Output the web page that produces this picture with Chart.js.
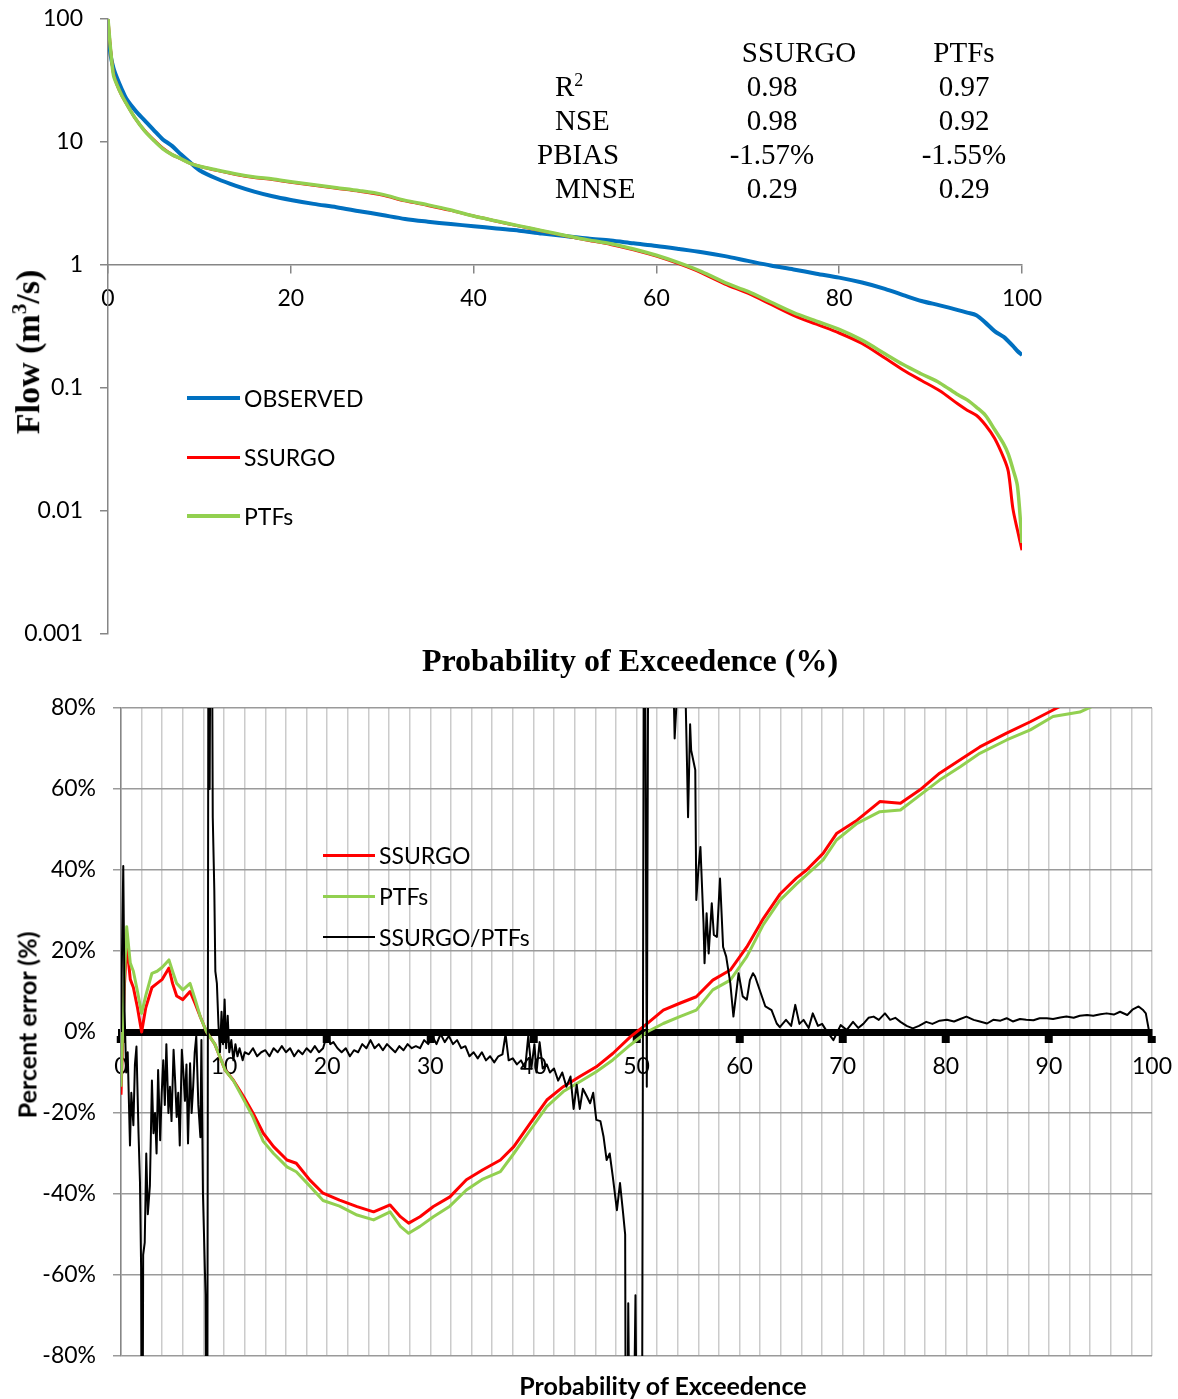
<!DOCTYPE html>
<html>
<head>
<meta charset="utf-8">
<script src="https://cdn.jsdelivr.net/npm/chart.js@4.4.1/dist/chart.umd.min.js"></script>
<style>
  body { margin: 0; background: #fff; }
  #page { position: relative; width: 1178px; height: 1399px; overflow: hidden; background: #fff; }
  .txt { position: absolute; white-space: nowrap; line-height: 1; color: #000; }
  .serif { font-family: "Liberation Serif", "Times New Roman", serif; }
  .sans { font-family: Lato, "Open Sans", sans-serif; }
  .mark { position: absolute; }
</style>
</head>
<body>
<div id="page">
  <canvas id="flowChart" width="1178" height="690" style="position:absolute;left:0;top:0"></canvas>
  <canvas id="errorChart" width="1178" height="709" style="position:absolute;left:0;top:690px"></canvas>
</div>
<script>
// ---- top chart: flow duration curves ----
const topPct = [0, 0.3, 0.6, 1, 1.5, 2, 3, 4, 5, 6, 7, 8, 9, 10, 12, 14, 16, 18, 20, 22.5, 25, 27.5,
  30, 32.5, 35, 37.5, 40, 42.5, 45, 47.5, 50, 52.5, 55, 57.5, 60, 62.5, 65, 67.5, 70, 72.5, 75, 77.5,
  80, 82.5, 85, 87, 89, 91, 93, 94, 95, 96, 97, 98, 98.5, 99, 99.5, 100];
const observedFlow = [78, 50, 40, 33, 27, 22.5, 18, 15, 12.5, 10.5, 9.3, 7.9, 6.8, 5.9, 5.0, 4.4, 3.95, 3.62, 3.38, 3.14, 2.95, 2.74,
  2.55, 2.37, 2.25, 2.15, 2.07, 1.98, 1.9, 1.8, 1.72, 1.64, 1.58, 1.5, 1.43, 1.35, 1.27, 1.18, 1.08, 0.99, 0.92, 0.85,
  0.79, 0.72, 0.64, 0.57, 0.51, 0.47, 0.43, 0.41, 0.39, 0.34, 0.29, 0.26, 0.24, 0.22, 0.2, 0.185];
const ssurgoFlow = [100, 55, 36, 29, 24, 20.6, 15.5, 12.4, 10.4, 8.9, 7.9, 7.3, 6.7, 6.35, 5.85, 5.45, 5.15, 4.95, 4.7, 4.45, 4.2, 3.97,
  3.7, 3.32, 3.05, 2.78, 2.5, 2.27, 2.07, 1.89, 1.73, 1.59, 1.47, 1.33, 1.18, 1.02, 0.86, 0.7, 0.59, 0.48, 0.39, 0.33,
  0.28, 0.23, 0.175, 0.14, 0.115, 0.095, 0.074, 0.066, 0.06, 0.05, 0.039, 0.027, 0.021, 0.0105, 0.007, 0.0048];
const ptfsFlow = [100, 55, 35, 29, 24, 20.6, 15.5, 12.3, 10.3, 8.8, 7.9, 7.3, 6.7, 6.35, 5.9, 5.5, 5.2, 5.0, 4.75, 4.5, 4.25, 4.02,
  3.75, 3.35, 3.08, 2.8, 2.5, 2.28, 2.08, 1.9, 1.74, 1.6, 1.49, 1.35, 1.2, 1.04, 0.88, 0.72, 0.61, 0.5, 0.41, 0.35,
  0.3, 0.245, 0.19, 0.155, 0.13, 0.11, 0.088, 0.08, 0.07, 0.06, 0.046, 0.035, 0.029, 0.022, 0.016, 0.0055];
const flowTicks = [0.001, 0.01, 0.1, 1, 10, 100];
const pctTicks = [0, 20, 40, 60, 80, 100];

const statRows = ["R<sup style='font-size:0.62em;vertical-align:0.55em'>2</sup>", "NSE", "PBIAS", "MNSE"];
const statSsurgo = ["0.98", "0.98", "-1.57%", "0.29"];
const statPtfs = ["0.97", "0.92", "-1.55%", "0.29"];

// ---- bottom chart: percent error ----
const errPct = [0, 0.3, 0.55, 0.9, 1.2, 1.6, 2.0, 2.4, 3.0, 3.5, 4.0, 4.65, 5.0, 5.4, 6.0, 6.7, 7.2, 7.7, 8.3, 9.1,
  10.1, 10.9, 11.9, 12.8, 13.8, 14.8, 16.1, 17.0, 18.3, 19.6, 21.2, 22.9, 24.5, 26.1, 27.1, 27.9, 29.0, 30.3,
  31.9, 33.5, 35.1, 36.8, 38.1, 39.7, 41.3, 42.9, 44.5, 46.1, 47.7, 49.4, 51.0, 52.6, 54.2, 55.8, 57.4, 59.1,
  60.7, 62.3, 63.9, 65.5, 66.5, 68.1, 69.4, 71.4, 73.6, 75.6, 77.5, 79.4, 81.4, 83.3, 85.9, 88.2, 90.4, 93, 96, 100];
const ssurgoErr = [-15.5, 10, 22, 13, 11, 6, 0, 6, 11, 12, 13, 15.8, 12, 8.9, 8, 10, 7, 3.7, 0, -3,
  -9.4, -11.9, -16, -20, -25, -28.3, -31.6, -32.4, -36.5, -39.8, -41.5, -43.1, -44.4, -42.7, -45.6, -47.2, -45.6, -43.1,
  -40.7, -36.5, -34, -31.6, -28.3, -22.5, -16.8, -13.5, -11, -8.6, -5.3, -1.2, 2, 5.4, 7.1, 8.7, 12.8, 15.3,
  21, 28, 34, 38, 40, 44.1, 49, 52.3, 56.9, 56.5, 59.8, 63.9, 67.2, 70.4, 73.8, 76.6, 79.5, 83, 87, 92];
const ptfsErr = [-13.5, 12, 26, 17, 15, 10, 4.6, 9, 14.5, 15, 16, 17.8, 15, 12, 10.4, 12, 8, 3.7, 0, -3,
  -9.4, -12, -16.7, -21, -27, -30, -33.3, -34.5, -38, -41.6, -43, -45.2, -46.4, -44.4, -48, -49.7, -48, -45.6,
  -43, -39, -36.3, -34.5, -30, -24.2, -18.4, -14.7, -12.3, -9.8, -6.9, -3.2, 0, 2.1, 3.8, 5.4, 10.4, 12.8,
  18.6, 26.5, 32.5, 36.5, 38.8, 42.5, 47.4, 51.5, 54.4, 54.8, 58.5, 62.2, 65.5, 68.8, 72.1, 74.6, 77.9, 79, 82.5, 86];
const ratioPct = [0, 0.1, 0.22, 0.35, 0.5, 0.65, 0.87, 1.0, 1.2, 1.35, 1.5, 1.7, 1.84, 1.95, 2.05, 2.15, 2.3, 2.45, 2.6, 2.8,
  3.0, 3.15, 3.3, 3.45, 3.6, 3.8, 3.95, 4.1, 4.25, 4.4, 4.6, 4.75, 4.9, 5.1, 5.25, 5.4, 5.55, 5.7, 5.9, 6.05,
  6.2, 6.35, 6.5, 6.7, 6.85, 7.0, 7.15, 7.3, 7.5, 7.7, 7.8, 7.95, 8.05, 8.2, 8.35, 8.5, 8.6, 8.75, 8.9, 9.05,
  9.15, 9.3, 9.45, 9.6, 9.75, 9.9, 10.05, 10.2, 10.35, 10.5, 10.7, 10.9, 11.1, 11.3, 11.5, 11.8, 12.0, 12.4, 12.8, 13.2,
  13.6, 14.0, 14.4, 14.8, 15.2, 15.6, 16.0, 16.4, 16.8, 17.2, 17.6, 18.0, 18.4, 18.8, 19.2, 19.6, 20.0, 20.3, 20.6, 21.0,
  21.4, 21.8, 22.2, 22.6, 23.0, 23.4, 23.8, 24.2, 24.6, 25.0, 25.4, 25.8, 26.2, 26.6, 27.0, 27.4, 27.8, 28.2, 28.6, 29.0,
  29.4, 29.8, 30.2, 30.6, 31.0, 31.4, 31.8, 32.2, 32.6, 33.0, 33.4, 33.8, 34.2, 34.6, 35.0, 35.4, 35.8, 36.2, 36.6, 37.0,
  37.3, 37.6, 38.0, 38.4, 38.8, 39.2, 39.5, 39.8, 40.1, 40.3, 40.6, 40.9, 41.3, 41.6, 42.0, 42.4, 42.8, 43.2, 43.6, 43.9,
  44.2, 44.5, 44.8, 45.2, 45.5, 45.8, 46.1, 46.5, 46.8, 47.1, 47.4, 47.7, 48.1, 48.4, 48.7, 48.9, 49.0, 49.2, 49.5, 49.9,
  50.2, 50.5, 50.75, 51.0, 51.2, 53.6, 53.7, 53.9, 54.3, 54.7, 54.9, 55.0, 55.2, 55.3, 55.7, 55.8, 56.0, 56.2, 56.5, 56.6,
  56.8, 57.0, 57.3, 57.5, 57.8, 58.1, 58.4, 58.7, 59.1, 59.4, 59.9, 60.3, 60.7, 61.0, 61.3, 61.5, 62.0, 62.5, 63.1, 63.6,
  63.9, 64.5, 65.0, 65.4, 65.8, 66.2, 66.7, 67.1, 67.6, 68.0, 68.4, 69.1, 69.8, 70.4, 71.0, 71.5, 72.0, 72.5, 73.0, 73.5,
  74.1, 74.6, 75.1, 75.6, 76.2, 76.8, 77.4, 78.1, 78.7, 79.4, 80.1, 80.8, 81.4, 82.0, 82.7, 83.3, 84.0, 84.6, 85.3, 85.9,
  86.5, 87.2, 87.8, 88.5, 89.1, 89.8, 90.4, 91.1, 91.7, 92.4, 93.0, 93.7, 94.3, 95.0, 95.6, 96.3, 96.9, 97.6, 98.1, 98.7,
  99.1, 99.4, 99.7, 100];
const ratioErr = [0, 20, 41, 5, -10, -5, -28, -15, -23, -8, -3.6, -25, -37, -58, -150, -55, -52, -30, -45, -38,
  -12, -25, -20, -30, -9.4, -26.7, -15, -7, -18, -3, -20, -13.5, -22, -4.4, -12, -21, -15, -28, -4.4, -10,
  -17, -8, -27.5, -7.7, -20, -13.5, -5, -1, -18, -26, -2, -40, -50, -65, -150, 150, 60, 150, 53, 35,
  15, 12, 2, -5, 5, -3, 8, -4, 4, -5, -2, -7, -3, -6, -4, -7, -5, -5.5, -4, -6,
  -5, -4.5, -6, -4, -5, -3.5, -5, -4, -6, -4.5, -5.5, -4, -5, -3.5, -5, -4, -0.5, -3, -2.5, -4,
  -5, -4, -6, -4.5, -5, -3, -4, -2, -4, -3, -4.5, -3, -4, -5, -3.5, -4.5, -3, -4, -3.5, -4,
  -2, -3, -1, -3, -0.5, -2.5, -1, -3, -2, -4, -3.5, -6, -5, -6.5, -5, -7, -6, -7.5, -6, -5.5,
  -0.5, -7, -6.5, -8, -7, -9, -1, -9, -3, -10, -2.5, -9, -8, -10, -9, -12, -10, -13.5, -11, -19,
  -13, -19, -14, -16, -17.6, -15, -21.7, -22, -25.8, -31.6, -30, -35.7, -44, -37.3, -44.7, -50, -150, -67, -150, -65,
  -150, -150, 150, -13.5, 150, 85, 72.5, 82, 150, 90, 66, 53, 76, 69.6, 64.7, 32.6, 40, 45.7, 26.8, 17,
  29.3, 19.4, 31.8, 24, 23.5, 37.9, 21, 18.6, 12, 3.8, 14.5, 8.8, 8, 12.8, 14.5, 13.7, 10, 6.3, 5.4, 2.1,
  1.2, 3, 1.5, 6.7, 2, 3, 1, 4.6, 1.5, 2, 0.4, -2, 1.7, 0.5, 2.5, 1, 2, 3.5, 3.8, 3,
  4.6, 3, 3.5, 2.5, 1.5, 0.9, 1.5, 2.5, 2, 2.8, 3, 2.6, 3.2, 3.8, 3, 2.6, 2.1, 3, 2.8, 3.4,
  2.6, 3.2, 3, 2.9, 3.4, 3.4, 3.2, 3.6, 3.8, 3.5, 4, 4.2, 4, 4.4, 4.6, 4.3, 5, 4.2, 5.5, 6.3,
  5.5, 4.6, 0.4, 0];
const errXLabels = [0, 10, 20, 30, 40, 50, 60, 70, 80, 90, 100];

const BLUE = "#0070C0";
const RED = "#FF0000";
const GREEN = "#92D050";
const AXIS = "#868686";

Chart.defaults.font.family = "Lato";
Chart.defaults.color = "#000";

const page = document.getElementById("page");

function toXY(xs, ys) {
  return xs.map((x, i) => ({ x: x, y: ys[i] }));
}

function addText(html, x, y, cls, size, transform, extra) {
  const d = document.createElement("div");
  d.className = "txt " + cls;
  d.innerHTML = html;
  d.style.left = x + "px";
  d.style.top = y + "px";
  d.style.fontSize = size + "px";
  d.style.transform = transform;
  if (extra) Object.assign(d.style, extra);
  page.appendChild(d);
}

// legend drawn as html: short line + label, one row per dataset
function addLegend(chart, keys, x0, y0, step, lineLen, size) {
  keys.forEach((label, i) => {
    const ds = chart.data.datasets.find((d) => d.label === label);
    const y = y0 + i * step;
    const bar = document.createElement("div");
    bar.className = "mark";
    bar.style.left = x0 + "px";
    bar.style.top = y - ds.borderWidth / 2 + "px";
    bar.style.width = lineLen + "px";
    bar.style.height = ds.borderWidth + "px";
    bar.style.background = ds.borderColor;
    page.appendChild(bar);
    addText(label, x0 + lineLen + 4, y, "sans", size, "translate(0,-50%)");
  });
}

// keep tick labels from pushing the plot area around
const fixY = (w) => (s) => { s.width = w; s.paddingTop = 0; s.paddingBottom = 0; };
const fixX = (s) => { s.paddingLeft = 0; s.paddingRight = 0; };

const flowChart = new Chart(document.getElementById("flowChart"), {
  type: "line",
  data: {
    datasets: [
      { label: "OBSERVED", data: toXY(topPct, observedFlow), borderColor: BLUE, borderWidth: 4, order: 2 },
      { label: "SSURGO", data: toXY(topPct, ssurgoFlow), borderColor: RED, borderWidth: 3, order: 1 },
      { label: "PTFs", data: toXY(topPct, ptfsFlow), borderColor: GREEN, borderWidth: 3.5, order: 0 },
    ],
  },
  options: {
    responsive: false,
    animation: false,
    devicePixelRatio: 1,
    elements: { point: { radius: 0 }, line: { tension: 0.3, borderJoinStyle: "round" } },
    layout: { padding: { left: 0, top: 19, right: 156, bottom: 56 } },
    plugins: { legend: { display: false }, tooltip: { enabled: false } },
    scales: {
      x: {
        type: "linear",
        min: 0,
        max: 100,
        position: { y: 1 },
        afterBuildTicks: (s) => { s.ticks = pctTicks.map((v) => ({ value: v })); },
        afterFit: fixX,
        grid: { drawOnChartArea: false, tickLength: 8, color: AXIS, lineWidth: 1.5 },
        border: { color: AXIS, width: 1.5 },
        ticks: { font: { size: 23 }, color: "#000", padding: 12, maxRotation: 0 },
      },
      y: {
        type: "logarithmic",
        min: 0.001,
        max: 100,
        afterBuildTicks: (s) => { s.ticks = flowTicks.map((v) => ({ value: v })); },
        afterFit: fixY(108),
        grid: { drawOnChartArea: false, tickLength: 8, color: AXIS, lineWidth: 1.5 },
        border: { color: AXIS, width: 1.5 },
        ticks: { font: { size: 23 }, color: "#000", padding: 17, callback: (v) => String(v) },
      },
    },
  },
});

const errorChart = new Chart(document.getElementById("errorChart"), {
  type: "line",
  data: {
    datasets: [
      { label: "SSURGO", data: toXY(errPct, ssurgoErr), borderColor: RED, borderWidth: 3, order: 2 },
      { label: "PTFs", data: toXY(errPct, ptfsErr), borderColor: GREEN, borderWidth: 3, order: 1 },
      { label: "SSURGO/PTFs", data: toXY(ratioPct, ratioErr), borderColor: "#000", borderWidth: 2, order: 0 },
    ],
  },
  options: {
    responsive: false,
    animation: false,
    devicePixelRatio: 1,
    elements: { point: { radius: 0 }, line: { tension: 0, borderJoinStyle: "round" } },
    layout: { padding: { left: 0, top: 18, right: 26, bottom: 43 } },
    plugins: { legend: { display: false }, tooltip: { enabled: false } },
    scales: {
      x: {
        type: "linear",
        min: 0,
        max: 100,
        position: { y: 0 },
        afterFit: fixX,
        grid: {
          color: "#cbcbcb",
          lineWidth: 1.5,
          tickLength: 7,
          tickWidth: 8,
          tickColor: (c) => (c.tick && errXLabels.includes(c.tick.value) ? "#000" : "rgba(0,0,0,0)"),
        },
        border: { color: "#000", width: 7 },
        ticks: {
          stepSize: 2,
          autoSkip: false,
          maxRotation: 0,
          padding: 14,
          font: { size: 23 },
          color: "#000",
          callback: (v) => (errXLabels.includes(v) ? String(v) : ""),
        },
      },
      y: {
        min: -80,
        max: 80,
        afterFit: fixY(121),
        grid: {
          color: (c) => (c.tick && c.tick.value === 0 ? "rgba(0,0,0,0)" : "#9a9a9a"),
          lineWidth: 1.5,
          tickLength: 8,
        },
        border: { color: AXIS, width: 1.5 },
        ticks: { stepSize: 20, padding: 17, font: { size: 23 }, color: "#000", callback: (v) => v + "%" },
      },
    },
  },
});

// ---- text overlays ----
addText("Flow (m<sup style='font-size:0.62em;vertical-align:0.6em'>3</sup>/s)", 27, 352, "serif", 34,
  "translate(-50%,-50%) rotate(-90deg)", { fontWeight: "bold" });
addText("Probability of Exceedence (%)", 630, 660, "serif", 32, "translate(-50%,-50%)", { fontWeight: "bold" });

addText("SSURGO", 799, 52, "serif", 29, "translate(-50%,-50%)");
addText("PTFs", 964, 52, "serif", 29, "translate(-50%,-50%)");
const statLeft = [555, 555, 537, 555];
statRows.forEach((name, i) => {
  const y = 86 + i * 34;
  addText(name, statLeft[i], y, "serif", 29, "translate(0,-50%)");
  addText(statSsurgo[i], 772, y, "serif", 29, "translate(-50%,-50%)");
  addText(statPtfs[i], 964, y, "serif", 29, "translate(-50%,-50%)");
});

addLegend(flowChart, ["OBSERVED", "SSURGO", "PTFs"], 187, 398, 59, 53, 23);

addText("Percent error (%)", 27, 1025, "sans", 25, "translate(-50%,-50%) rotate(-90deg)", { fontWeight: "bold" });
addText("Probability of Exceedence", 663, 1385, "sans", 25, "translate(-50%,-50%)", { fontWeight: "bold" });
addLegend(errorChart, ["SSURGO", "PTFs", "SSURGO/PTFs"], 323, 855, 41, 52, 23);
</script>
</body>
</html>
